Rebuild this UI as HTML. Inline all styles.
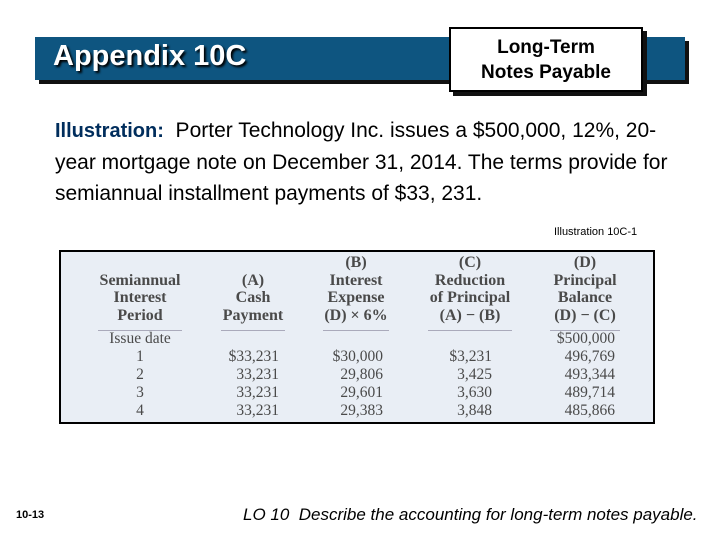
<!DOCTYPE html>
<html><head><meta charset="utf-8"><style>
body{margin:0;width:720px;height:540px;background:#fff;position:relative;overflow:hidden;font-family:"Liberation Sans",sans-serif}
.a{position:absolute}
.s{font-family:"Liberation Serif",serif;font-size:15.5px;color:#4a4a4a;position:absolute;white-space:nowrap}
.h{text-align:center;transform:translateX(-50%)}
.b{font-weight:bold;font-size:16px}
.r{text-align:right;transform:translateX(-100%)}
.ul{position:absolute;height:1px;background:#aab;top:330px}
</style></head><body>
<div class="a" style="left:39px;top:41px;width:650px;height:43px;background:#111"></div>
<div class="a" style="left:35px;top:37px;width:650px;height:43px;background:#0e5580"></div>
<div class="a" style="left:53px;top:40px;color:#fff;font-size:29px;font-weight:bold;text-shadow:2px 2px 2px #000">Appendix 10C</div>
<div class="a" style="left:453px;top:31px;width:194px;height:65px;background:#111"></div>
<div class="a" style="left:449px;top:27px;width:190px;height:55px;background:#fff;border:2px solid #000;text-align:center;font-size:19px;font-weight:bold;line-height:25px;padding-top:6px">Long-Term<br>Notes Payable</div>
<div class="a" style="left:55px;top:115px;width:660px;font-size:21px;line-height:31px;color:#000;white-space:nowrap"><span style="color:#002d5c;font-weight:bold;font-size:20px">Illustration:</span>&nbsp; Porter Technology Inc. issues a $500,000, 12%, 20-<br>year mortgage note on December 31, 2014. The terms provide for<br>semiannual installment payments of $33, 231.</div>
<div class="a" style="left:554px;top:226px;font-size:11px">Illustration 10C-1</div>
<div class="a" style="left:59px;top:250px;width:592px;height:170px;border:2px solid #000;background:#e9eef5"></div>
<div id="t"></div>
<div class="a" style="left:16px;top:509px;font-size:11px;font-weight:bold">10-13</div>
<div class="a" style="left:243px;top:505px;font-size:17px;font-style:italic">LO 10&nbsp; Describe the accounting for long-term notes payable.</div>
<script>
const headers=[["","Semiannual","Interest","Period"],["","(A)","Cash","Payment"],["(B)","Interest","Expense","(D) × 6%"],["(C)","Reduction","of Principal","(A) − (B)"],["(D)","Principal","Balance","(D) − (C)"]];
const periods=["Issue date","1","2","3","4"];
const cashPayment=["","$33,231","33,231","33,231","33,231"];
const interestExpense=["","$30,000","29,806","29,601","29,383"];
const reduction=["","$3,231","3,425","3,630","3,848"];
const balance=["$500,000","496,769","493,344","489,714","485,866"];
const t=document.getElementById('t');
const centers=[140,253,356,470,585],rights=[279,383,492,615],ulw=[84,64,66,84,70];
function add(txt,cls,x,y){const d=document.createElement('div');d.className='s '+cls;d.style.left=x+'px';d.style.top=y+'px';d.textContent=txt;


t.appendChild(d);}
headers.forEach((h,c)=>{h.forEach((s,r)=>{if(s)add(s,'h b',centers[c],254+r*17.7)});
const u=document.createElement('div');u.className='ul';u.style.left=(centers[c]-ulw[c]/2)+'px';u.style.width=ulw[c]+'px';


t.appendChild(u);});
periods.forEach((p,i)=>{const y=330+i*18;
add(p,'h',centers[0],y);
[cashPayment,interestExpense,reduction,balance].forEach((col,c)=>{if(col[i])add(col[i],'r',rights[c],y)});});
</script>
</body></html>
